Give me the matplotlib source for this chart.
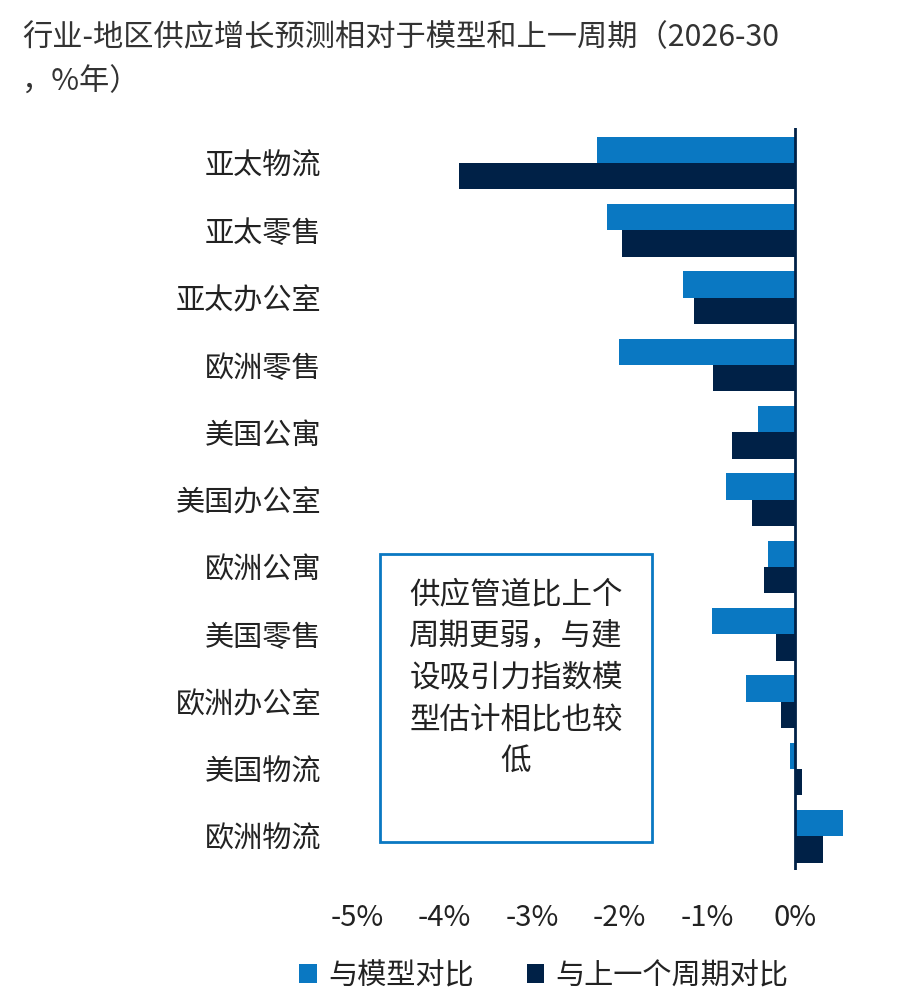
import matplotlib
matplotlib.use("Agg")
import matplotlib.pyplot as plt
import numpy as np
from matplotlib.patches import Rectangle

plt.rcParams['font.family'] = ['Noto Sans CJK SC', 'DejaVu Sans']

# ---- data ----------------------------------------------------------
categories = ["亚太物流", "亚太零售", "亚太办公室", "欧洲零售", "美国公寓", "美国办公室",
              "欧洲公寓", "美国零售", "欧洲办公室", "美国物流", "欧洲物流"]
vs_model = [-2.26, -2.15, -1.28, -2.01, -0.42, -0.79, -0.31, -0.95, -0.56, -0.06, 0.55]
vs_prev_cycle = [-3.84, -1.97, -1.15, -0.93, -0.72, -0.49, -0.35, -0.21, -0.16, 0.08, 0.32]
xticks = [-5, -4, -3, -2, -1, 0]
xtick_labels = ["-5%", "-4%", "-3%", "-2%", "-1%", "0%"]
legend_labels = ["与模型对比", "与上一个周期对比"]
title = "行业-地区供应增长预测相对于模型和上一周期（2026-30\n，%年）"
note = "供应管道比上个\n周期更弱，与建\n设吸引力指数模\n型估计相比也较\n低"

LIGHT = "#0A78C2"
DARK = "#002147"
W, H = 912, 1008

fig = plt.figure(figsize=(W / 100, H / 100), dpi=100)
ax = fig.add_axes([330 / W, 1 - 870 / H, (850 - 330) / W, (870 - 128) / H])

y = np.arange(len(categories))
h = 0.39
ax.barh(y - h / 2, vs_model, height=h, color=LIGHT, label=legend_labels[0])
ax.barh(y + h / 2, vs_prev_cycle, height=h, color=DARK, label=legend_labels[1])
ax.axvline(0, color=DARK, linewidth=2)

ax.set_xlim(-5.31, 0.63)
ax.set_ylim(len(categories) - 0.5, -0.52)
ax.set_yticks(y)
ax.set_yticklabels(categories, fontsize=21, color="#222222")
ax.set_xticks(xticks)
ax.set_xticklabels(xtick_labels, fontsize=21, color="#222222")
ax.tick_params(length=0)
ax.tick_params(axis='y', pad=6)
ax.tick_params(axis='x', pad=24)
for s in ax.spines.values():
    s.set_visible(False)

fig.text(22 / W, 1 - 60 / H, title, fontsize=21.8, color="#333333",
         ha="left", va="center", linespacing=1.55)

# note box
fig.patches.append(Rectangle((380 / W, 1 - 842 / H), (652 - 380) / W, (842 - 554) / H,
                             transform=fig.transFigure, fill=False,
                             edgecolor=LIGHT, linewidth=2))
fig.text(516 / W, 1 - 678 / H, note, fontsize=22, color="#222222",
         ha="center", va="center", linespacing=1.45)

fig.legend(loc="center", bbox_to_anchor=(544 / W, 1 - 976 / H), ncol=2,
           frameon=False, fontsize=21, handlelength=0.6, handleheight=0.6,
           handletextpad=0.4, columnspacing=1.8, labelcolor="#222222")

fig.savefig("out.png", dpi=100)
